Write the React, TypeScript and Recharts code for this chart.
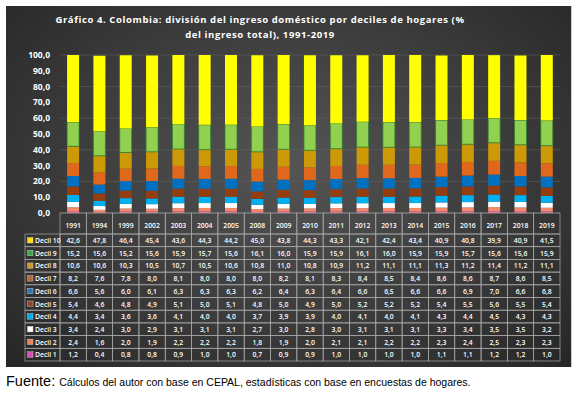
import { BarChart, Bar, XAxis, YAxis, CartesianGrid } from "recharts";

const years = ["1991", "1994", "1999", "2002", "2003", "2004", "2005", "2008", "2009", "2010", "2011", "2012", "2013", "2014", "2015", "2016", "2017", "2018", "2019"];

const decil10 = [42.6, 47.8, 46.4, 45.4, 43.6, 44.3, 44.2, 45.0, 43.8, 44.3, 43.3, 42.1, 42.4, 43.4, 40.9, 40.8, 39.9, 40.9, 41.5];
const decil9 = [15.2, 15.6, 15.2, 15.6, 15.9, 15.7, 15.6, 16.1, 16.0, 15.9, 15.9, 16.1, 16.0, 15.9, 15.9, 15.7, 15.6, 15.6, 15.9];
const decil8 = [10.6, 10.6, 10.3, 10.5, 10.7, 10.5, 10.6, 10.8, 11.0, 10.8, 10.9, 11.2, 11.1, 11.1, 11.3, 11.2, 11.4, 11.2, 11.1];
const decil7 = [8.2, 7.6, 7.8, 8.0, 8.1, 8.0, 8.0, 8.0, 8.2, 8.1, 8.3, 8.4, 8.5, 8.4, 8.6, 8.6, 8.7, 8.6, 8.5];
const decil6 = [6.6, 5.6, 6.0, 6.1, 6.3, 6.3, 6.3, 6.2, 6.4, 6.3, 6.4, 6.6, 6.5, 6.6, 6.6, 6.9, 7.0, 6.6, 6.8];
const decil5 = [5.4, 4.6, 4.8, 4.9, 5.1, 5.0, 5.1, 4.8, 5.0, 4.9, 5.0, 5.2, 5.2, 5.2, 5.4, 5.5, 5.6, 5.5, 5.4];
const decil4 = [4.4, 3.4, 3.6, 3.6, 4.1, 4.0, 4.0, 3.7, 3.9, 3.9, 4.0, 4.1, 4.0, 4.1, 4.3, 4.4, 4.5, 4.3, 4.3];
const decil3 = [3.4, 2.4, 3.0, 2.9, 3.1, 3.1, 3.1, 2.7, 3.0, 2.8, 3.0, 3.1, 3.1, 3.1, 3.3, 3.4, 3.5, 3.5, 3.2];
const decil2 = [2.4, 1.6, 2.0, 1.9, 2.2, 2.2, 2.2, 1.8, 1.9, 2.0, 2.1, 2.1, 2.2, 2.2, 2.3, 2.4, 2.5, 2.3, 2.3];
const decil1 = [1.2, 0.4, 0.8, 0.8, 0.9, 1.0, 1.0, 0.7, 0.9, 0.9, 1.0, 1.0, 1.0, 1.0, 1.1, 1.1, 1.2, 1.2, 1.0];

const yTicks = [0, 10, 20, 30, 40, 50, 60, 70, 80, 90, 100];

// bottom to top of the stack
const series = [
  { key: "d1", name: "Decil 1", color: "#E8689A", legend: "#D64FB8", values: decil1 },
  { key: "d2", name: "Decil 2", color: "#F4896B", legend: "#E8845A", values: decil2 },
  { key: "d3", name: "Decil 3", color: "#FFFFFF", legend: "#FFFFFF", values: decil3 },
  { key: "d4", name: "Decil 4", color: "#00B0F0", legend: "#00B0F0", values: decil4 },
  { key: "d5", name: "Decil 5", color: "#953D0E", legend: "#8A4A2A", values: decil5 },
  { key: "d6", name: "Decil 6", color: "#0070C0", legend: "#2E75B6", values: decil6 },
  { key: "d7", name: "Decil 7", color: "#E0681C", legend: "#B36A3E", values: decil7 },
  { key: "d8", name: "Decil 8", color: "#CC9A06", legend: "#C99A2E", values: decil8 },
  { key: "d9", name: "Decil 9", color: "#92D050", legend: "#3DAA4A", values: decil9 },
  { key: "d10", name: "Decil 10", color: "#FFFF00", legend: "#FFE000", values: decil10 },
];

const data = years.map((year, i) => {
  const row: Record<string, string | number> = { year };
  series.forEach((s) => (row[s.key] = s.values[i]));
  return row;
});

const fmt = (v: number) => v.toFixed(1).replace(".", ",");

const CHART_W = 565;
const CHART_H = 361;
const Y_W = 54;
const MARGIN = { top: 49, right: 11, bottom: 6, left: 0 };
const COL_W = (CHART_W - Y_W - MARGIN.right - MARGIN.left) / years.length;
const HEAD_H = 21;
const ROW_H = 12.7;
const LEG_W = 35;
const GRID = "#a8a8a8";
const FONT = "'Open Sans', 'Liberation Sans', sans-serif";

const tableRows = [...series].reverse();

function TableTick(props: any) {
  const { x, y, payload } = props;
  const idx = payload.index;
  const left = x - COL_W / 2;
  const top = y;
  return (
    <g fontFamily={FONT} fontWeight={600}>
      <rect x={left} y={top} width={COL_W} height={HEAD_H} fill="none" stroke={GRID} strokeWidth={0.7} />
      <text x={x} y={top + 15} textAnchor="middle" fill="#fff" fontSize={6.8}>
        {payload.value}
      </text>
      {tableRows.map((s, r) => (
        <g key={s.key}>
          <rect x={left} y={top + HEAD_H + r * ROW_H} width={COL_W} height={ROW_H} fill="none" stroke={GRID} strokeWidth={0.7} />
          <text x={x} y={top + HEAD_H + r * ROW_H + 9} textAnchor="middle" fill="#fff" fontSize={6.8}>
            {fmt(s.values[idx])}
          </text>
        </g>
      ))}
      {idx === 0 &&
        tableRows.map((s, r) => (
          <g key={"l" + s.key}>
            <rect x={left - LEG_W} y={top + HEAD_H + r * ROW_H} width={LEG_W} height={ROW_H} fill="none" stroke={GRID} strokeWidth={0.7} />
            <rect x={left - LEG_W + 2.5} y={top + HEAD_H + r * ROW_H + 3.5} width={5.5} height={5.5} fill={s.legend} stroke="#ddd" strokeWidth={0.4} />
            <text x={left - LEG_W + 10} y={top + HEAD_H + r * ROW_H + 9} fill="#fff" fontSize={6.8}>
              {s.name}
            </text>
          </g>
        ))}
    </g>
  );
}

export default function App() {
  return (
    <div style={{ position: "absolute", left: 0, top: 0, width: 581, height: 394, background: "#fff", overflow: "hidden" }}>
      <div
        style={{
          position: "absolute",
          left: 6,
          top: 6,
          width: CHART_W,
          height: CHART_H,
          background: "radial-gradient(ellipse at 50% 45%, #555555 0%, #404040 45%, #262626 100%)",
          borderRight: "1px solid #cfcfcf",
        }}
      >
        <div
          style={{
            position: "absolute",
            left: 0,
            top: 6,
            width: 508,
            textAlign: "center",
            color: "#fff",
            fontFamily: FONT,
            fontWeight: 700,
            fontSize: 9.5,
            letterSpacing: 0.6,
            lineHeight: "15px",
          }}
        >
          Gráfico 4. Colombia: división del ingreso doméstico por deciles de hogares (%
          <br />
          del ingreso total), 1991-2019
        </div>
        <div style={{ position: "absolute", left: 0, top: 0 }}>
          <BarChart width={CHART_W} height={CHART_H} data={data} margin={MARGIN} barCategoryGap="27%">
            <CartesianGrid vertical={false} stroke="#606060" strokeWidth={0.6} />
            <YAxis
              width={Y_W}
              domain={[0, 100]}
              allowDataOverflow
              ticks={yTicks}
              tickFormatter={fmt}
              axisLine={false}
              tickLine={false}
              tickSize={0}
              tickMargin={10}
              tick={{ fill: "#fff", fontSize: 8.5, fontWeight: 700, fontFamily: FONT }}
            />
            <XAxis
              dataKey="year"
              height={CHART_H - MARGIN.top - MARGIN.bottom - 158}
              axisLine={false}
              tickLine={false}
              tickSize={0}
              tickMargin={0}
              interval={0}
              tick={<TableTick />}
            />
            {series.map((s) => (
              <Bar
                key={s.key}
                dataKey={s.key}
                name={s.name}
                stackId="a"
                fill={s.color}
                stroke={s.key === "d9" ? "#2E7D32" : undefined}
                strokeWidth={s.key === "d9" ? 0.8 : 0}
                isAnimationActive={false}
              />
            ))}
          </BarChart>
        </div>
      </div>
      <div style={{ position: "absolute", left: 6, top: 372, fontFamily: "'Liberation Sans', Arial, sans-serif", color: "#000", whiteSpace: "nowrap" }}>
        <span style={{ fontSize: 14.5 }}>Fuente: </span>
        <span style={{ fontSize: 10.5, fontFamily: "'Liberation Sans Narrow', 'Liberation Sans', sans-serif" }}>
          Cálculos del autor con base en CEPAL, estadísticas con base en encuestas de hogares.
        </span>
      </div>
    </div>
  );
}
